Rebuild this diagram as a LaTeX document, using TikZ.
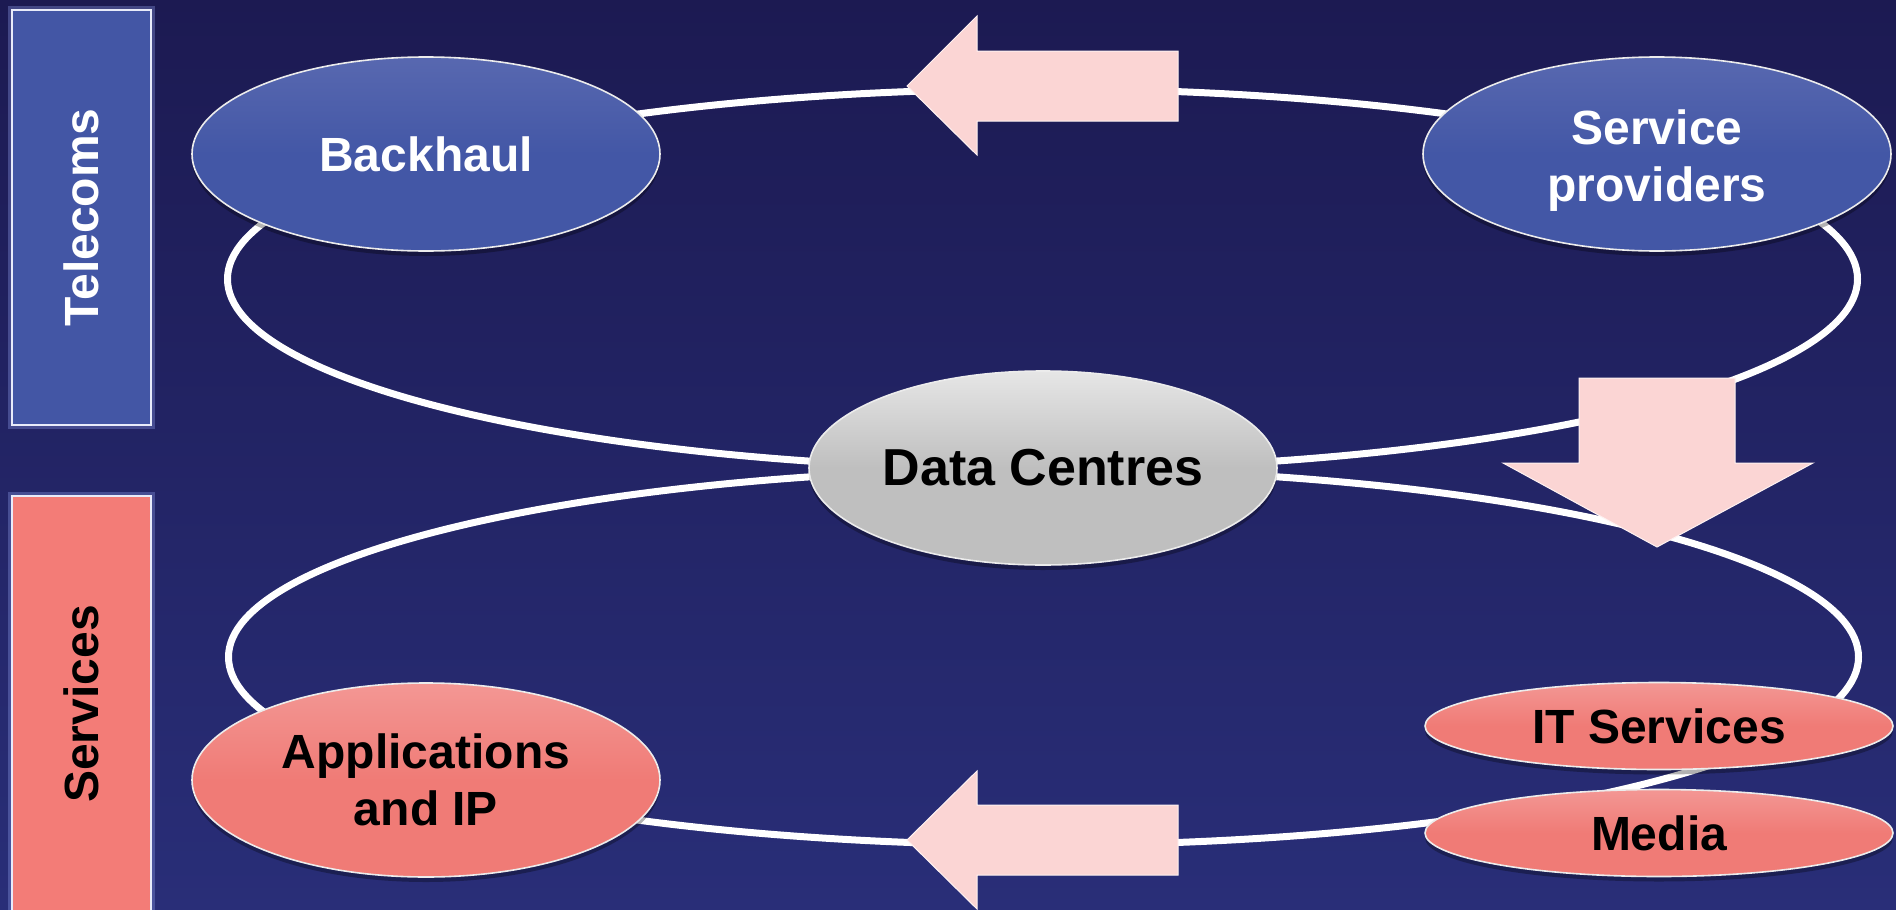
\documentclass[tikz,border=0pt]{standalone}
\usepackage{fontspec}
\setmainfont{Liberation Sans}
\usetikzlibrary{shapes.geometric,shadows}
\definecolor{bgtop}{HTML}{1C1A52}
\definecolor{bgbot}{HTML}{292E78}
\definecolor{blueM}{HTML}{4357A6}
\definecolor{blueL}{HTML}{5868B0}
\definecolor{pinkM}{HTML}{F07B76}
\definecolor{pinkL}{HTML}{F39794}
\definecolor{greyM}{HTML}{BFBFBF}
\definecolor{greyL}{HTML}{E6E6E6}
\definecolor{arrowfill}{HTML}{FBD5D4}
\definecolor{rectblue}{HTML}{4356A5}
\definecolor{rectpink}{HTML}{F37C77}
\definecolor{glowblue}{HTML}{8C9BE6}
\tikzset{
  bigfont/.style={font=\bfseries\fontsize{24}{28.5}\selectfont},
  bubble/.style={ellipse, inner sep=0pt, minimum width=234pt, minimum height=97pt,
    draw=white!85!gray, line width=0.8pt, align=center, bigfont,
    drop shadow={shadow xshift=0pt, shadow yshift=-2.5pt, opacity=0.3, fill=black}},
  flatbubble/.style={bubble, minimum height=43.5pt},
  bluebub/.style={top color=blueL, bottom color=blueM, middle color=blueM, text=white},
  pinkbub/.style={top color=pinkL, bottom color=pinkM, middle color=pinkM, text=black},
  greybub/.style={top color=greyL, bottom color=greyM, middle color=greyM, text=black,
    font=\bfseries\fontsize{26}{31}\selectfont},
  sidebar/.style={rectangle, rotate=90, inner sep=0pt, minimum width=207.5pt, minimum height=69.5pt,
    draw=white!80!glowblue, line width=0.7pt, bigfont,
    preaction={draw=glowblue, line width=4pt, opacity=0.35}},
  loopline/.style={draw=white, line width=3.5pt},
  bigarrow/.style={fill=arrowfill, draw=white!70!arrowfill, line width=0.5pt, line join=miter}
}
\begin{document}
\begin{tikzpicture}[x=0.5pt,y=-0.5pt]
\useasboundingbox (0,0) rectangle (1896,910);
\shade[top color=bgtop, bottom color=bgbot] (0,0) rectangle (1896,910);

% side bars
\node[sidebar, fill=rectblue, text=white] (telecoms) at (81.5,217.5) {Telecoms};
\node[sidebar, fill=rectpink, text=black, minimum width=208pt] (services) at (81.5,704) {Services};

% loops
\coordinate (topc) at (1042.5,279);
\coordinate (botc) at (1043.5,657);
\draw[loopline] (topc) ellipse [x radius=815, y radius=190];
\draw[loopline] (botc) ellipse [x radius=815, y radius=188];

% arrows
\path[bigarrow] (907,86) -- (977,16) -- (977,51) -- (1178,51) -- (1178,121) -- (977,121) -- (977,155) -- cycle;
\path[bigarrow] (907,840) -- (977,771) -- (977,805) -- (1178,805) -- (1178,875) -- (977,875) -- (977,909) -- cycle;
\path[bigarrow] (1657,547) -- (1503,463) -- (1579,463) -- (1579,378) -- (1735,378) -- (1735,463) -- (1813,463) -- cycle;

% bubbles
\node[bubble, bluebub] (backhaul) at (426,154) {Backhaul};
\node[bubble, bluebub] (providers) at (1657,154) {\rule{0pt}{23.5pt}Service\\providers};
\node[bubble, greybub] (dc) at (1043,468) {Data Centres};
\node[bubble, pinkbub] (apps) at (426,780) {Applications\\and IP};
\node[flatbubble, pinkbub] (its) at (1659,726) {IT Services};
\node[flatbubble, pinkbub] (media) at (1659,833) {Media};
\end{tikzpicture}
\end{document}
